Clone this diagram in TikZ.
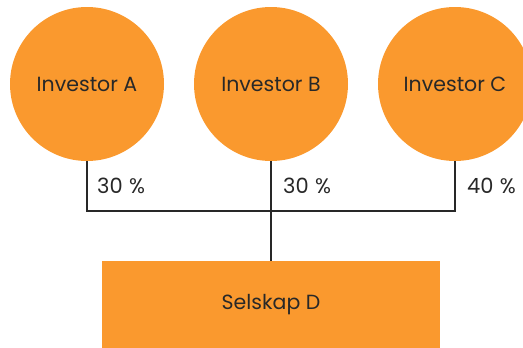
\documentclass[tikz,border=0pt]{standalone}
\usepackage{fontspec}
\setmainfont{Poppins}
\definecolor{org}{RGB}{250,153,46}
\definecolor{ink}{RGB}{40,40,40}
\begin{document}
\begin{tikzpicture}[x=1pt,y=-1pt,
  inv/.style={circle,fill=org,minimum size=154pt,inner sep=0pt,text=ink,font=\fontsize{20.5}{24}\selectfont},
  comp/.style={rectangle,fill=org,minimum width=338pt,minimum height=88pt,inner sep=0pt,text=ink,font=\fontsize{20.5}{24}\selectfont},
  pct/.style={anchor=west,inner sep=0pt,text=ink,font=\fontsize{21}{24}\selectfont},
  conn/.style={draw=ink,line width=1.8pt}]
\useasboundingbox (0,0) rectangle (523,348);
\node[inv] (A) at (87,84) {Investor A};
\node[inv] (B) at (271,84) {Investor B};
\node[inv] (C) at (455,84) {Investor C};
\node[comp] (D) at (271,305) {Selskap D};
\coordinate (ja) at (87,211);
\coordinate (jb) at (271,211);
\coordinate (jc) at (455,211);
\draw[conn] (A.south) -- (ja) -- (jc) -- (C.south);
\draw[conn] (B.south) -- (jb) -- (D.north);
\node[pct] (pa) at (97,186) {30\hspace{0.3em}\%};
\node[pct] (pb) at (283,186) {30\hspace{0.3em}\%};
\node[pct] (pc) at (467,186) {40\hspace{0.3em}\%};
\end{tikzpicture}
\end{document}
